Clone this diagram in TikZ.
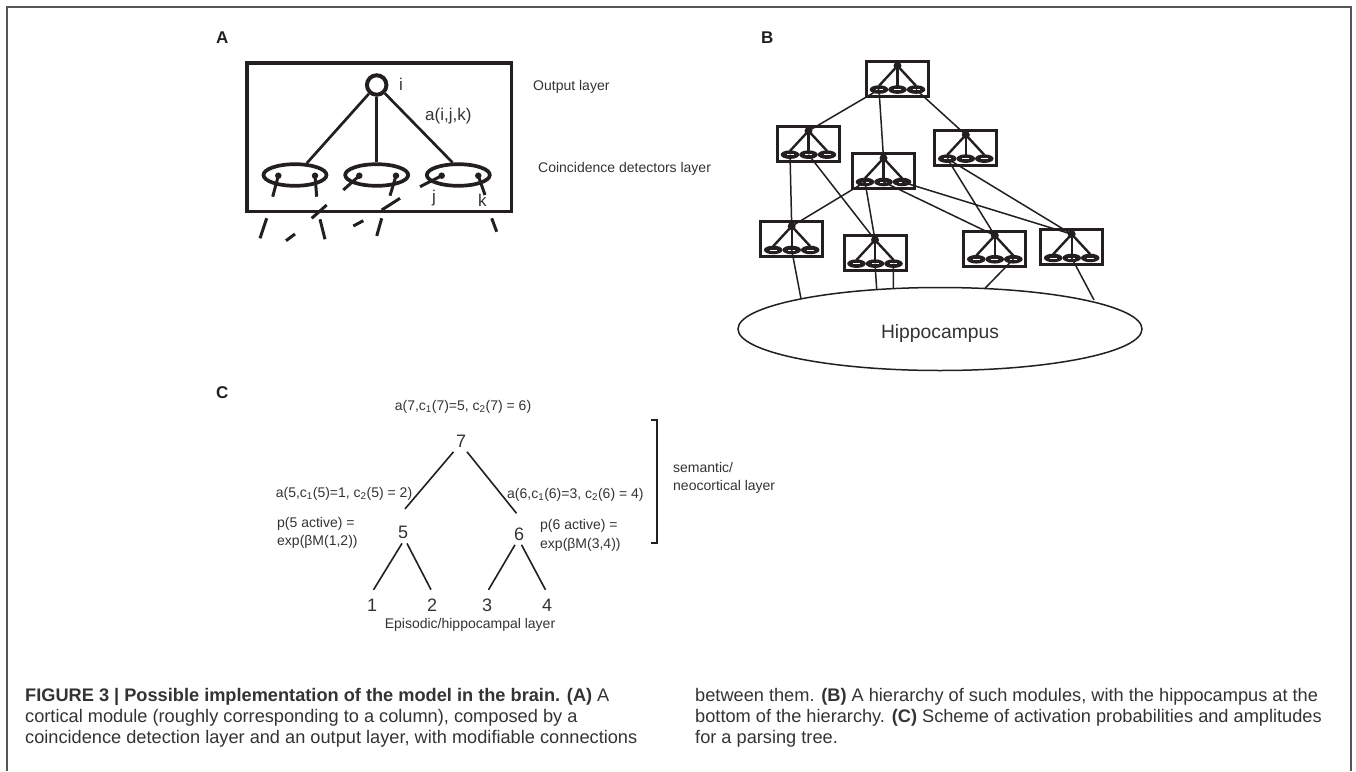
\documentclass[tikz,border=0pt]{standalone}
\usepackage{fontspec}
\setmainfont{Liberation Sans}
\usetikzlibrary{shapes.geometric}
\definecolor{ink}{HTML}{231F20}
\definecolor{txt}{HTML}{333333}
\definecolor{framec}{HTML}{555555}
\tikzset{
  lab/.style={font=\fontsize{14}{17}\selectfont, text=txt, inner sep=0pt, anchor=base},
  labw/.style={lab, anchor=base west},
  alab/.style={font=\fontsize{17}{20}\selectfont, text=txt, inner sep=0pt, anchor=base west},
  panel/.style={font=\fontsize{17}{20}\selectfont\bfseries, text=ink, inner sep=0pt, anchor=base west},
  num/.style={font=\fontsize{18}{20}\selectfont, text=txt, inner sep=0pt, anchor=base},
  captext/.style={font=\fontsize{18.2}{21}\selectfont, text=txt, inner sep=0pt, anchor=base west},
  heavy/.style={draw=ink, line width=2.7pt},
  dotline/.style={draw=ink, line width=3pt},
  thin/.style={draw=ink, line width=1.5pt},
  treeline/.style={draw=ink, line width=1.6pt},
  adot/.style={circle, fill=ink, minimum size=6.5pt, inner sep=0pt},
  modbox/.style={draw=ink, line width=3pt, minimum width=62pt, minimum height=35pt, inner sep=0pt},
  moddot/.style={circle, fill=ink, minimum size=8pt, inner sep=0pt},
  modell/.style={ellipse, fill=ink, minimum width=18.6pt, minimum height=8.6pt, inner sep=0pt},
  module/.pic={
    \node[modbox] (-box) at (0,0) {};
    \node[moddot] (-d) at (0,-13) {};
    \foreach \i/\xx in {1/-18.5,2/0,3/18.5}{
      \node[modell] (-e\i) at (\xx,10.75) {};
      \draw[draw=ink, line width=2.4pt] (-d.center) -- (\xx,7);
      \draw[white, line width=0.9pt] (\xx-3.5,10.75) -- (\xx+3.5,10.75);
    }
  },
}
\begin{document}
\begin{tikzpicture}[x=1pt,y=-1pt]
\useasboundingbox (0,0) rectangle (1356,771);
\draw[framec, line width=1.5pt] (7,771) -- (7,7) -- (1351,7) -- (1351,771);

% ---------------- Panel A
\node[panel] (labA) at (216,43) {A};
\node[draw=ink, line width=3.5pt, minimum width=264.5pt, minimum height=148.5pt, inner sep=0pt] (boxA) at (379,137) {};
\node[circle, draw=ink, line width=4pt, minimum size=19.5pt, inner sep=0pt] (out) at (376.7,85) {};
\node[ellipse, draw=ink, line width=3.7pt, minimum width=63pt, minimum height=21.6pt, inner sep=0pt] (c1) at (295,175) {};
\node[ellipse, draw=ink, line width=3.7pt, minimum width=63pt, minimum height=21.6pt, inner sep=0pt] (c2) at (376.7,175) {};
\node[ellipse, draw=ink, line width=3.7pt, minimum width=63pt, minimum height=21.6pt, inner sep=0pt] (c3) at (458.3,175) {};
\draw[heavy] (out) -- (c1.45);
\draw[heavy] (out) -- (c2.north);
\draw[heavy] (out) -- (c3.115);

\node[adot] (d1) at (278.3,175.7) {};
\node[adot] (d2) at (315,175.7) {};
\node[adot] (d3) at (359.3,175.7) {};
\node[adot] (d4) at (396,175.7) {};
\node[adot] (d5) at (441.7,175.7) {};
\node[adot] (d6) at (478.3,175.7) {};
\coordinate (t1) at (272.7,196.7);
\coordinate (t2) at (316.7,196.7);
\coordinate (t3) at (343.3,190);
\coordinate (t4) at (390,195.7);
\coordinate (t5) at (420,186.7);
\coordinate (t6) at (485,195);
\foreach \k in {1,...,6} \draw[dotline] (d\k.center) -- (t\k);

\draw[dotline] (311.7,218.3) -- (326.7,205);
\draw[dotline] (381.7,210) -- (400,198.3);
\draw[dotline] (260,238.3) -- (266.7,218.3);
\draw[dotline] (286,240.7) -- (295,234);
\draw[dotline] (320,219.3) -- (325,239.3);
\draw[dotline] (353.3,226) -- (363.3,220.7);
\draw[dotline] (376.7,236) -- (381.7,218.3);
\draw[dotline] (491.7,218.3) -- (496.7,231.7);

\node[alab] (li) at (399,90) {i};
\node[alab] (laijk) at (425,120) {a(i,j,k)};
\node[alab] (lj) at (432,202) {j};
\node[alab] (lk) at (478,206) {k};
\node[labw] (lout) at (533,90) {Output layer};
\node[labw] (lcoin) at (538,172) {Coincidence detectors layer};

% ---------------- Panel B
\node[panel] (labB) at (761,43) {B};
\pic (m1) at (897.5,78.8) {module};
\pic (m2) at (808.5,143.9) {module};
\pic (m3) at (965.8,147.9) {module};
\pic (m4) at (883.5,171.2) {module};
\pic (m5) at (791.7,239.2) {module};
\pic (m6) at (875,252.9) {module};
\pic (m7) at (994.8,248.5) {module};
\pic (m8) at (1071.7,247.2) {module};

\draw[thin] (m1-e1.center) -- (m2-d.center);
\draw[thin] (m1-e1.center) -- (m4-d.center);
\draw[thin] (m1-e3.center) -- (m3-d.center);
\draw[thin] (m2-e1.center) -- (m5-d.center);
\draw[thin] (m2-e2.center) -- (m6-d.center);
\draw[thin] (m4-e1.center) -- (m5-d.center);
\draw[thin] (m4-e1.center) -- (m6-d.center);
\draw[thin] (m4-e2.center) -- (m7-d.center);
\draw[thin] (m4-e3.center) -- (m8-d.center);
\draw[thin] (m3-e1.center) -- (m7-d.center);
\draw[thin] (m3-e1.center) -- (m8-d.center);

\node[ellipse, draw=ink, line width=1.5pt, minimum width=404pt, minimum height=83pt, inner sep=0pt] (hip) at (940,329) {};
\node[font=\fontsize{19.3}{22}\selectfont, text=txt, inner sep=0pt, anchor=base] (hiptext) at (940,338.5) {Hippocampus};
\coordinate (h1) at (801,298.7);
\coordinate (h2) at (876.7,289.4);
\coordinate (h3) at (893.3,288.4);
\coordinate (h4) at (985,288.3);
\coordinate (h5) at (1094,300);
\draw[thin] (m5-e2.center) -- (h1);
\draw[thin] (m6-e2.center) -- (h2);
\draw[thin] (m6-e3.center) -- (h3);
\draw[thin] (m7-e3.center) -- (h4);
\draw[thin] (m8-e2.center) -- (h5);

% ---------------- Panel C
\node[panel] (labC) at (216,398) {C};
\node[lab] (a7) at (463,410) {a(7,c\textsubscript{1}(7)=5, c\textsubscript{2}(7) = 6)};
\node[num] (n7) at (461,447) {7};
\node[num] (n5) at (403,538) {5};
\node[num] (n6) at (519,540) {6};
\node[num] (n1) at (372,611) {1};
\node[num] (n2) at (432,611) {2};
\node[num] (n3) at (487,611) {3};
\node[num] (n4) at (547,611) {4};
\draw[treeline] ([shift={(-7.5,11)}]n7.center) -- ([shift={(2,-23)}]n5.center);
\draw[treeline] ([shift={(6,11)}]n7.center) -- ([shift={(-2.5,-20.5)}]n6.center);
\draw[treeline] ([shift={(-1,11.5)}]n5.center) -- ([shift={(1.5,-15)}]n1.center);
\draw[treeline] ([shift={(4,11.5)}]n5.center) -- ([shift={(-1,-15)}]n2.center);
\draw[treeline] ([shift={(-4,11)}]n6.center) -- ([shift={(1.5,-15)}]n3.center);
\draw[treeline] ([shift={(2.5,11)}]n6.center) -- ([shift={(-1.5,-15)}]n4.center);

\node[lab] (a5) at (344,497) {a(5,c\textsubscript{1}(5)=1, c\textsubscript{2}(5) = 2)};
\node[labw] (a6) at (507,498) {a(6,c\textsubscript{1}(6)=3, c\textsubscript{2}(6) = 4)};
\node[labw] (p5) at (277,527) {p(5 active) =};
\node[labw] (e5) at (277,545) {exp(βM(1,2))};
\node[labw] (p6) at (540,529) {p(6 active) =};
\node[labw] (e6) at (540,548) {exp(βM(3,4))};
\node[lab] (epi) at (470,628) {Episodic/hippocampal layer};

\coordinate (brt) at (651,420);
\coordinate (brb) at (651,543);
\draw[draw=ink, line width=2pt] (brt) -- (657,420) -- (657,543) -- (brb);
\node[labw] (sem1) at (673,472) {semantic/};
\node[labw] (sem2) at (673,490) {neocortical layer};

% ---------------- Caption
\node[captext] (cap1) at (25,701) {\textbf{FIGURE 3 | Possible implementation of the model in the brain. (A)} A};
\node[captext] (cap2) at (25,722) {cortical module (roughly corresponding to a column), composed by a};
\node[captext] (cap3) at (25,743) {coincidence detection layer and an output layer, with modifiable connections};
\node[captext] (cap4) at (695,701) {between them. \textbf{(B)} A hierarchy of such modules, with the hippocampus at the};
\node[captext] (cap5) at (695,722) {bottom of the hierarchy. \textbf{(C)} Scheme of activation probabilities and amplitudes};
\node[captext] (cap6) at (695,743) {for a parsing tree.};
\end{tikzpicture}
\end{document}
